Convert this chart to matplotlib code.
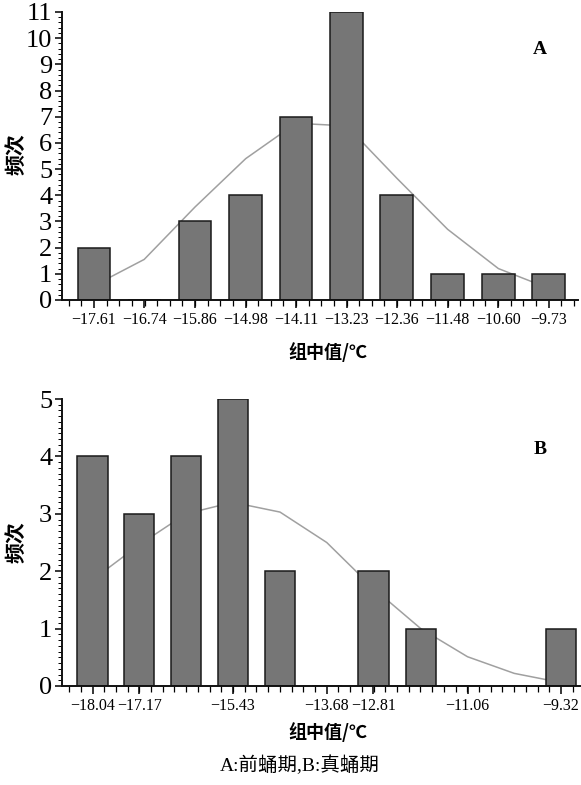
import numpy as np
import matplotlib.pyplot as plt
from matplotlib.ticker import FixedLocator, MultipleLocator

# panel A: 前蛹期
a_centers = [-17.61, -16.74, -15.86, -14.98, -14.11, -13.23, -12.36, -11.48, -10.60, -9.73]
a_counts = [2, 0, 3, 4, 7, 11, 4, 1, 1, 1]
a_curve = [0.55, 1.55, 3.55, 5.4, 6.75, 6.65, 4.65, 2.7, 1.2, 0.45]
a_labels = ['−17.61', '−16.74', '−15.86', '−14.98', '−14.11', '−13.23', '−12.36', '−11.48', '−10.60', '−9.73']

# panel B: 真蛹期
b_centers = [-18.04, -17.17, -16.30, -15.43, -14.55, -13.68, -12.81, -11.93, -11.06, -10.19, -9.32]
b_counts = [4, 3, 4, 5, 2, 0, 2, 1, 0, 0, 1]
b_curve = [1.85, 2.46, 3.0, 3.2, 3.03, 2.5, 1.7, 1.0, 0.51, 0.22, 0.06]
b_ticks = [-18.04, -17.17, -15.43, -13.68, -12.81, -11.06, -9.32]
b_labels = ['−18.04', '−17.17', '−15.43', '−13.68', '−12.81', '−11.06', '−9.32']

serif = 'Liberation Serif'
cjk = ['Noto Sans CJK SC', 'DejaVu Sans']
W, H = 581, 785

fig = plt.figure(figsize=(W / 100, H / 100), dpi=100)


def panel(rect, centers, counts, curve, ticks, labels, xlim, ymax, yminor, tag, tag_y):
    ax = fig.add_axes(rect)
    step = (centers[-1] - centers[0]) / (len(centers) - 1)
    ax.plot(centers, curve, color='#a0a0a0', lw=1.1, zorder=1)
    ax.bar(centers, counts, width=step * 0.65, color='#767676',
           edgecolor='#1a1a1a', linewidth=1.1, zorder=2)
    ax.set_xlim(*xlim)
    ax.set_ylim(0, ymax)
    for s in ['top', 'right']:
        ax.spines[s].set_visible(False)
    for s in ['left', 'bottom']:
        ax.spines[s].set_linewidth(1.4)
        ax.spines[s].set_color('#111111')
    ax.set_xticks(ticks)
    ax.set_xticklabels(labels, fontfamily=serif, fontsize=11.5)
    minor = np.arange(centers[0] - step, xlim[1], step / 4)
    ax.xaxis.set_minor_locator(FixedLocator(minor))
    ax.yaxis.set_major_locator(MultipleLocator(1))
    ax.yaxis.set_minor_locator(MultipleLocator(yminor))
    for lab in ax.get_yticklabels():
        lab.set_fontfamily(serif)
        lab.set_fontsize(19)
    ax.tick_params(axis='x', which='major', length=6, width=1.1, pad=3)
    ax.tick_params(axis='x', which='minor', length=4, width=0.9)
    ax.tick_params(axis='y', which='major', length=5, width=1.1, pad=2)
    ax.tick_params(axis='y', which='minor', length=3, width=0.7)
    fig.text(540 / W, 1 - tag_y / H, tag, fontfamily=serif, fontweight='bold',
             fontsize=14, ha='center', va='center')
    return ax


panel([62 / W, 1 - 300 / H, 516 / W, 288 / H], a_centers, a_counts, a_curve,
      a_centers, a_labels, (-18.165, -9.22), 11, 0.2, 'A', 49)
panel([62 / W, 1 - 686 / H, 518 / W, 287 / H], b_centers, b_counts, b_curve,
      b_ticks, b_labels, (-18.608, -8.966), 5, 0.1, 'B', 450)

# axis titles
for y in [154, 542]:
    fig.text(16 / W, 1 - y / H, '频次', family=cjk, fontweight='bold',
             fontsize=15, rotation=90, ha='center', va='center')
for y in [352, 732]:
    fig.text(328 / W, 1 - y / H, '组中值/℃', family=cjk, fontweight='bold',
             fontsize=13, ha='center', va='center')

fig.text(300 / W, 1 - 765 / H, 'A:前蛹期,B:真蛹期', family=[serif] + cjk,
         fontsize=14, ha='center', va='center')

fig.savefig('out.png', dpi=100)
